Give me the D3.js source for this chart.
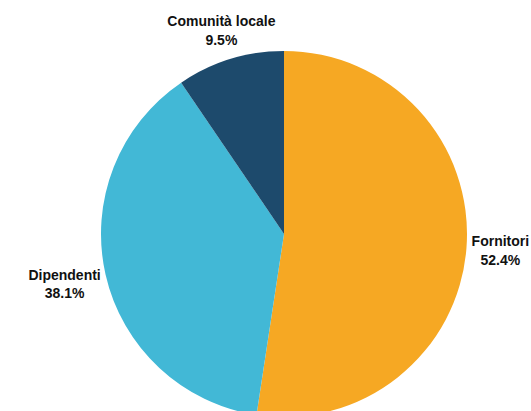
<!DOCTYPE html>
<html><head><meta charset="utf-8">
<script src="https://cdn.jsdelivr.net/npm/d3@7"></script>
<style>html,body{margin:0;padding:0;background:#fff;}svg{display:block;}</style>
</head><body>
<svg id="chart" width="531" height="411"></svg>
<script>
const categories = ["Fornitori", "Dipendenti", "Comunità locale"];
const values = [52.4, 38.1, 9.5];
const valueLabels = ["52.4%", "38.1%", "9.5%"];
const colors = ["#F6A823", "#42B8D6", "#1D4A6C"];
// layout: distance of each label's centre beyond the pie edge
const labelGap = [34, 42, 30];

const cx = 284, cy = 234, R = 183;
const svg = d3.select("#chart");
const g = svg.append("g").attr("transform", `translate(${cx},${cy})`);

const pie = d3.pie().sort(null).value(d => d)(values);
const arc = d3.arc().innerRadius(0).outerRadius(R);

g.selectAll("path.slice").data(pie).enter().append("path")
  .attr("class", "slice")
  .attr("d", arc)
  .attr("fill", (d, i) => colors[i]);

const fs = 14, lh = 18.5, cap = 0.716 * fs;
pie.forEach((d, i) => {
  const a = (d.startAngle + d.endAngle) / 2;
  const r = R + labelGap[i];
  const px = Math.sin(a) * r, py = -Math.cos(a) * r;
  const y0 = py - (cap + lh) / 2 + cap;
  const t = g.append("text")
    .attr("text-anchor", "middle")
    .attr("font-family", "'Liberation Sans', Arial, Helvetica, sans-serif")
    .attr("font-weight", "bold")
    .attr("font-size", fs)
    .attr("fill", "#111");
  t.append("tspan").attr("x", px).attr("y", y0).text(categories[i]);
  t.append("tspan").attr("x", px).attr("y", y0 + lh).text(valueLabels[i]);
});
</script>
</body></html>
